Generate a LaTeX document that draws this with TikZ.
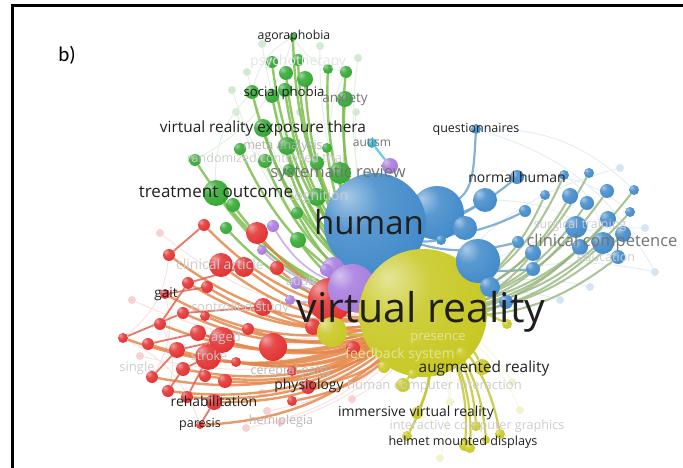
\documentclass[tikz,border=0pt]{standalone}
\usepackage{fontspec}
\setmainfont{Open Sans}
\newfontfamily\tagfont{Carlito}

\definecolor{vosgreen}{HTML}{2EA52E}
\definecolor{vosred}{HTML}{E22B2B}
\definecolor{vosblue}{HTML}{3C87C8}
\definecolor{vosyellow}{HTML}{C6C61C}
\definecolor{vospurple}{HTML}{A477DC}
\definecolor{voscyan}{HTML}{2DB6DA}
\definecolor{gline}{HTML}{7DBE4F}
\definecolor{rline}{HTML}{E5874A}
\definecolor{rrline}{HTML}{E2604C}
\definecolor{bline}{HTML}{6FA3CC}
\definecolor{oline}{HTML}{95B57C}
\definecolor{yline}{HTML}{C4C432}
\colorlet{vosc}{vosblue}

\pgfdeclareradialshading[vosc]{vosball}{\pgfqpoint{-14bp}{14bp}}{%
  color(0bp)=(vosc!45!white); color(14bp)=(vosc!85!white);
  color(40bp)=(vosc); color(62bp)=(vosc!78!black); color(80bp)=(vosc!78!black)}

\pgfdeclarelayer{faint}
\pgfdeclarelayer{edges}
\pgfsetlayers{faint,edges,main}

\tikzset{
  vball/.style={circle, inner sep=0pt, shade, shading=vosball, /utils/exec={\colorlet{vosc}{#1}}},
  pale/.style={circle, inner sep=0pt, fill=#1},
  gedge/.style={draw=gline, line width=2.4pt, opacity=.85, bend right=24},
  redge/.style={draw=rline, line width=2.4pt, opacity=.85, bend right=24},
  rredge/.style={draw=rrline, line width=1.8pt, opacity=.85},
  bedge/.style={draw=bline, line width=2.2pt, opacity=.85, bend left=22},
  oedge/.style={draw=oline, line width=2pt, opacity=.8, bend left=22},
  yedge/.style={draw=yline, line width=2.2pt, opacity=.85, bend right=22},
  fedge/.style={draw=#1, line width=1pt, bend right=22},
  lab/.style={inner sep=0pt, text=black!88, font=\fontsize{#1}{#1}\selectfont},
  glab/.style={inner sep=0pt, text=black!55, font=\fontsize{#1}{#1}\selectfont},
  flab/.style={inner sep=0pt, text=black!20, font=\fontsize{#1}{#1}\selectfont}
}

\begin{document}
\begin{tikzpicture}[x=1pt,y=-1pt]
  \useasboundingbox (0,0) rectangle (683,468);

% frame and panel tag
  \draw[line width=3pt] (12,468) -- (12,6) -- (683,6);
  \node[inner sep=0pt, font=\tagfont\fontsize{21}{21}\selectfont] (tag) at (67,55) {b)};

% big items: human, virtual reality and what lies under them
  \node[vball=vosblue, minimum size=54] (hum2) at (437,213) {};
  \node[vball=vosblue, minimum size=102] (hum) at (375,224) {};
  \node[vball=vosred, minimum size=44] (rbig) at (330,300) {};
  \node[vball=vospurple, minimum size=22] (pbig2) at (333,268) {};
  \node[vball=vospurple, minimum size=48] (pbig) at (352,288) {};
  \node[vball=vosyellow, minimum size=128] (vr) at (423,313) {};

% green cluster
  \foreach \n/\x/\y/\r in {1/293/37/4, 2/272/62/6, 3/298/60/6, 4/286/73/7, 5/305/79/8,
      6/328/69/5, 7/346/72/6, 8/252/92/7, 9/272/96/7, 10/285/90/7, 11/345/99/8,
      12/263/128/9, 13/287/146/9, 14/240/149/6, 15/195/160/6, 16/265/161/7,
      17/317/163/7, 18/327/148/5, 19/340/173/11, 20/216/193/13, 21/289/170/6,
      22/317/197/9, 23/233/205/7, 24/226/228/6, 25/298/240/8, 26/297/213/6}
    \node[vball=vosgreen, minimum size=2*\r] (g\n) at (\x,\y) {};

% purple and cyan
  \foreach \n/\x/\y/\r in {1/390/166/8, 2/273/226/6, 3/262/250/5, 4/296/283/6,
      5/290/300/5, 6/326/270/6}
    \node[vball=vospurple, minimum size=2*\r] (p\n) at (\x,\y) {};
  \node[vball=voscyan, minimum size=10] (aut) at (372,143) {};

% red cluster
  \foreach \n/\x/\y/\r in {1/204/225/6, 2/257/233/11, 3/169/255/6, 4/221/265/12,
      5/244/267/10, 6/277/268/7, 7/188/283/6, 8/207/287/6, 9/165/294/5,
      10/263/307/9, 11/183/313/6, 12/205/316/5, 13/160/324/6, 14/198/333/8,
      15/248/329/6, 16/123/338/5, 17/148/344/6, 18/222/340/13, 19/177/350/8,
      20/208/357/13, 21/273/347/14, 22/236/362/5, 23/152/377/6, 24/183/369/7,
      25/205/376/6, 26/225/381/7, 27/168/391/6, 28/187/397/6, 29/214/402/8,
      30/200/425/4, 31/292/371/5, 32/308/387/7, 33/292/401/5, 34/353/348/7,
      35/313/327/8}
    \node[vball=vosred, minimum size=2*\r] (r\n) at (\x,\y) {};

% blue cluster
  \foreach \n/\x/\y/\r in {1/476/129/5, 2/517/177/7, 3/564/175/5, 4/589/173/5,
      5/485/200/12, 6/545/195/5, 7/570/196/8, 8/587/203/7, 9/607/191/7,
      10/634/190/5, 11/525/211/6, 12/465/228/12, 13/576/227/11, 14/608/219/8,
      15/630/212/5, 16/518/242/6, 17/533/253/8, 18/580/247/8, 19/603/243/11,
      20/623/234/8, 21/618/257/7, 22/533/269/7, 23/478/261/22, 24/490/287/10,
      25/441/240/5, 26/506/302/7}
    \node[vball=vosblue, minimum size=2*\r] (b\n) at (\x,\y) {};

% yellow cluster
  \foreach \n/\x/\y/\r in {1/332/332/15, 2/384/367/6, 3/413/374/5, 4/403/385/7,
      5/462/353/6, 6/482/367/8, 7/417/413/6, 8/476/426/5, 9/407/436/5,
      10/465/445/6, 11/470/448/5, 12/500/434/5, 13/486/440/4, 14/507/324/5}
    \node[vball=vosyellow, minimum size=2*\r] (y\n) at (\x,\y) {};

% pale nodes in the back
  \begin{pgfonlayer}{faint}
    \foreach \n/\x/\y/\c in {1/262/44/vosgreen, 2/320/46/vosgreen, 3/247/72/vosgreen,
        4/358/58/vosgreen, 5/232/90/vosgreen, 6/300/112/vosgreen, 7/356/112/vosgreen,
        8/236/112/vosgreen, 9/160/233/vosred, 10/262/393/vosred, 11/267/411/vosred,
        12/246/428/vosred, 13/352/399/vosred, 14/281/422/vosred, 15/132/300/vosred,
        16/140/356/vosred, 17/620/168/vosblue, 18/645/228/vosblue, 19/590/287/vosblue,
        20/655/272/vosblue, 21/560/300/vosblue, 22/450/402/vosyellow,
        23/512/382/vosyellow, 24/440/458/vosyellow, 25/520/410/vosyellow}
      \node[pale=\c!22, minimum size=8] (f\n) at (\x,\y) {};
    \foreach \n/\c in {1/vosgreen, 2/vosgreen, 3/vosgreen, 4/vosgreen, 5/vosgreen,
        6/vosgreen, 7/vosgreen, 8/vosgreen, 9/vosred, 10/vosred, 11/vosred, 12/vosred,
        13/vosred, 14/vosred, 15/vosred, 16/vosred, 17/vosblue, 18/vosblue,
        19/vosblue, 20/vosblue, 21/vosblue, 22/vosyellow, 23/vosyellow,
        24/vosyellow, 25/vosyellow}
      \draw[fedge=\c!14] (f\n) to (vr.center);
    \foreach \a/\b/\c in {g1/g8/vosgreen, g1/g7/vosgreen, g15/g1/vosgreen,
        g8/g20/vosgreen, g7/g19/vosgreen, r16/r3/vosred, r23/r9/vosred,
        r27/r13/vosred, r30/r16/vosred, b10/b1/vosblue, b15/b2/vosblue,
        b21/b5/vosblue, b19/b3/vosblue, f20/b1/vosblue}
      \draw[fedge=\c!14] (\a) to (\b);
  \end{pgfonlayer}

% connectors
  \begin{pgfonlayer}{edges}
    \foreach \n in {1,...,26}
      \draw[gedge] (g\n) to (vr.center);
    \foreach \n in {1,...,35}
      \draw[redge] (r\n) to (vr.center);
    \foreach \a/\b in {r16/r11, r17/r14, r13/r7, r23/r19, r27/r24, r28/r20,
        r30/r29, r3/r1, r9/r8, r19/r18, r24/r20, r11/r10, r7/r5, r14/r18}
      \draw[rredge] (\a) -- (\b);
    \draw[draw=bline, line width=2.2pt, opacity=.85] (b1) .. controls +(-4,75) .. (hum.center);
    \foreach \n in {2,5,11,12,16,22,25}
      \draw[bedge] (b\n) to (hum.center);
    \foreach \n in {3,4,6,7,8,9,10,13,14,15,17,18,19,20,21,23,24,26}
      \draw[oedge] (b\n) to (vr.center);
    \foreach \n in {1,...,14}
      \draw[yedge] (y\n) to (vr.center);
    \foreach \n in {2,3,4,5,6}
      \draw[draw=vospurple!55, line width=1.8pt, bend right=22] (p\n) to (pbig.center);
    \draw[draw=voscyan!70, line width=2.2pt] (aut) -- (p1);
  \end{pgfonlayer}

% faint labels
  \node[flab=14, text=black!11] (lpsy) at (298,62) {psychotherapy};
  \node[flab=12.5] (lrct) at (266,158) {randomized controlled trial};
  \node[flab=12.5, text=black!30] (lmeta) at (283,146) {meta analysis};
  \node[flab=14] (lcog) at (318,197) {cognition};
  \node[flab=14] (lcla) at (220,264) {clinical article};
  \node[flab=13] (lcst) at (240,308) {controlled study};
  \node[flab=12.5] (ladu) at (301,281) {adult};
  \node[flab=13] (lage) at (226,338) {aged};
  \node[flab=12.5] (lstr) at (209,356) {stroke};
  \node[flab=13] (lsin) at (137,368) {single};
  \node[flab=12.5] (lsur) at (580,225) {surgical training};
  \node[flab=12.5] (ledu) at (606,257) {education};
  \node[flab=13, text=vosyellow!45!white] (lpre) at (438,339) {presence};
  \node[flab=14, text=vosyellow!45!white] (lfee) at (400,355) {feedback system};
  \node[flab=13, anchor=west] (lhci) at (347,386) {human computer interaction};
  \node[flab=12.6] (licg) at (477,426) {interactive computer graphics};
  \node[flab=12.5, text=black!28] (lcer) at (291,371) {cerebral palsy};
  \node[flab=12.5, text=black!28] (lhem) at (281,421) {hemiplegia};

% grey labels
  \node[glab=13.5] (lanx) at (345,99) {anxiety};
  \node[glab=12] (laut) at (372,142) {autism};
  \node[glab=16.5] (lsys) at (338,173) {systematic review};
  \node[glab=16.5] (lclc) at (602,242) {clinical competence};

% labels
  \node[lab=12.3] (lago) at (294,36) {agoraphobia};
  \node[lab=13.2] (lsoc) at (284,93) {social phobia};
  \node[lab=15.4] (lvre) at (263,129) {virtual reality exposure thera};
  \node[lab=17] (ltre) at (216,192) {treatment outcome};
  \node[lab=12.5] (lque) at (476,129) {questionnaires};
  \node[lab=14] (lnor) at (517,177) {normal human};
  \node[lab=13.5] (lgai) at (166,294) {gait};
  \node[lab=13.9] (lreh) at (214,401) {rehabilitation};
  \node[lab=12.5] (lpar) at (200,424) {paresis};
  \node[lab=13.9] (lphy) at (309,386) {physiology};
  \node[lab=15.4] (laug) at (484,368) {augmented reality};
  \node[lab=13.9] (limm) at (416,413) {immersive virtual reality};
  \node[lab=12.6] (lhel) at (463,442) {helmet mounted displays};
  \node[lab=33] (lhum) at (369,222) {human};
  \node[lab=41] (lvr) at (421,312) {virtual reality};

\end{tikzpicture}
\end{document}
